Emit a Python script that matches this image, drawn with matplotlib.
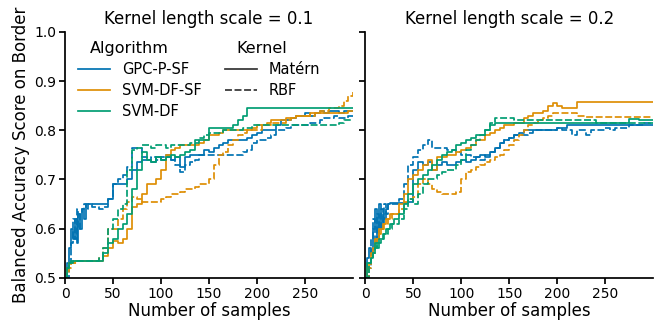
import numpy as np
import matplotlib
matplotlib.use('Agg')
import matplotlib.pyplot as plt
from matplotlib.lines import Line2D
from matplotlib.offsetbox import HPacker, DrawingArea

# sample counts (finer at the start)
samples = list(range(0, 30, 2)) + list(range(30, 301, 5))

scales = ['0.1', '0.2']
algorithms = ['GPC-P-SF', 'SVM-DF-SF', 'SVM-DF']
kernels = ['Matérn', 'RBF']
colors = ['#0173B2', '#DE8F05', '#029E73']

# ---- kernel length scale = 0.1 ----
gpc_matern_01 = [0.50, 0.53, 0.56, 0.60, 0.58, 0.62, 0.57, 0.63, 0.60, 0.64, 0.62, 0.65, 0.65, 0.65, 0.65,
                 0.65, 0.65, 0.65, 0.66, 0.69, 0.69, 0.69, 0.70, 0.72, 0.735,
                 0.74, 0.74, 0.735, 0.745, 0.74, 0.745, 0.74, 0.745, 0.725, 0.745,
                 0.75, 0.75, 0.75, 0.76, 0.755, 0.765, 0.77, 0.775, 0.78, 0.78,
                 0.78, 0.78, 0.785, 0.79, 0.795, 0.80, 0.80, 0.80, 0.81, 0.82,
                 0.82, 0.825, 0.83, 0.83, 0.835, 0.83, 0.835, 0.84, 0.835, 0.84,
                 0.84, 0.835, 0.84, 0.84, 0.84]
gpc_rbf_01 = [0.50, 0.50, 0.53, 0.57, 0.62, 0.58, 0.64, 0.60, 0.63, 0.64, 0.65, 0.64, 0.65, 0.65, 0.645,
              0.645, 0.64, 0.645, 0.66, 0.69, 0.70, 0.71, 0.725, 0.765, 0.765,
              0.745, 0.74, 0.745, 0.74, 0.745, 0.75, 0.74, 0.73, 0.715, 0.73,
              0.735, 0.74, 0.75, 0.75, 0.75, 0.75, 0.75, 0.75, 0.75, 0.75,
              0.75, 0.755, 0.76, 0.775, 0.78, 0.78, 0.785, 0.79, 0.80, 0.80,
              0.805, 0.81, 0.81, 0.81, 0.81, 0.815, 0.815, 0.82, 0.825, 0.825,
              0.83, 0.825, 0.825, 0.83, 0.83]
svmsf_matern_01 = [0.50, 0.52, 0.53, 0.53, 0.53, 0.535, 0.535, 0.535, 0.535, 0.535, 0.535, 0.535, 0.535, 0.535, 0.535,
                   0.535, 0.535, 0.545, 0.56, 0.575, 0.57, 0.58, 0.60, 0.645, 0.65,
                   0.67, 0.69, 0.69, 0.70, 0.72, 0.75, 0.76, 0.765, 0.77, 0.77,
                   0.77, 0.77, 0.775, 0.78, 0.79, 0.79, 0.795, 0.80, 0.80, 0.80,
                   0.80, 0.80, 0.80, 0.805, 0.81, 0.81, 0.815, 0.82, 0.82, 0.82,
                   0.825, 0.825, 0.83, 0.83, 0.83, 0.835, 0.835, 0.835, 0.835, 0.835,
                   0.835, 0.835, 0.835, 0.84, 0.84]
svmsf_rbf_01 = [0.50, 0.51, 0.52, 0.53, 0.53, 0.53, 0.535, 0.535, 0.535, 0.535, 0.535, 0.535, 0.535, 0.535, 0.535,
                0.535, 0.54, 0.56, 0.60, 0.60, 0.62, 0.64, 0.655, 0.665, 0.66,
                0.655, 0.655, 0.655, 0.655, 0.66, 0.665, 0.67, 0.67, 0.675, 0.68,
                0.68, 0.685, 0.69, 0.69, 0.70, 0.73, 0.75, 0.755, 0.77, 0.78,
                0.79, 0.795, 0.80, 0.80, 0.80, 0.81, 0.81, 0.815, 0.815, 0.815,
                0.82, 0.825, 0.83, 0.83, 0.83, 0.83, 0.835, 0.84, 0.84, 0.845,
                0.845, 0.85, 0.86, 0.87, 0.878]
svm_matern_01 = [0.50, 0.52, 0.53, 0.53, 0.535, 0.535, 0.535, 0.535, 0.535, 0.535, 0.535, 0.535, 0.535, 0.535, 0.535,
                 0.535, 0.535, 0.55, 0.57, 0.58, 0.60, 0.61, 0.63, 0.68, 0.72,
                 0.755, 0.74, 0.735, 0.745, 0.74, 0.745, 0.75, 0.745, 0.75, 0.755,
                 0.76, 0.775, 0.78, 0.78, 0.805, 0.805, 0.805, 0.805, 0.805, 0.81,
                 0.82, 0.83, 0.845, 0.845, 0.845, 0.845, 0.845, 0.845, 0.845, 0.845,
                 0.845, 0.845, 0.845, 0.845, 0.845, 0.845, 0.845, 0.845, 0.845, 0.845,
                 0.845, 0.845, 0.845, 0.845, 0.845]
svm_rbf_01 = [0.50, 0.52, 0.53, 0.535, 0.535, 0.535, 0.535, 0.535, 0.535, 0.535, 0.535, 0.535, 0.535, 0.535, 0.535,
              0.535, 0.54, 0.56, 0.60, 0.62, 0.64, 0.65, 0.72, 0.76, 0.765,
              0.77, 0.77, 0.765, 0.77, 0.77, 0.765, 0.77, 0.77, 0.77, 0.77,
              0.775, 0.78, 0.785, 0.79, 0.795, 0.795, 0.795, 0.80, 0.80, 0.80,
              0.80, 0.805, 0.805, 0.81, 0.81, 0.81, 0.81, 0.81, 0.81, 0.81,
              0.81, 0.81, 0.81, 0.81, 0.81, 0.81, 0.81, 0.81, 0.81, 0.81,
              0.81, 0.815, 0.82, 0.82, 0.82]

# ---- kernel length scale = 0.2 ----
gpc_matern_02 = [0.50, 0.54, 0.56, 0.55, 0.60, 0.64, 0.58, 0.65, 0.60, 0.63, 0.62, 0.64, 0.65, 0.652, 0.652,
                 0.652, 0.652, 0.652, 0.655, 0.72, 0.735, 0.73, 0.735, 0.72, 0.73,
                 0.735, 0.73, 0.73, 0.735, 0.74, 0.735, 0.74, 0.745, 0.75, 0.745,
                 0.755, 0.765, 0.775, 0.78, 0.785, 0.79, 0.795, 0.80, 0.80, 0.80,
                 0.80, 0.80, 0.80, 0.80, 0.805, 0.805, 0.81, 0.81, 0.81, 0.81,
                 0.81, 0.81, 0.81, 0.81, 0.81, 0.81, 0.81, 0.81, 0.81, 0.81,
                 0.81, 0.81, 0.81, 0.81, 0.81]
gpc_rbf_02 = [0.50, 0.49, 0.52, 0.58, 0.62, 0.57, 0.63, 0.60, 0.64, 0.61, 0.65, 0.63, 0.65, 0.65, 0.65,
              0.65, 0.66, 0.69, 0.73, 0.745, 0.76, 0.77, 0.78, 0.765, 0.765,
              0.765, 0.76, 0.76, 0.755, 0.75, 0.75, 0.745, 0.745, 0.74, 0.75,
              0.755, 0.765, 0.775, 0.78, 0.785, 0.79, 0.79, 0.79, 0.795, 0.80,
              0.80, 0.80, 0.80, 0.80, 0.805, 0.80, 0.80, 0.79, 0.80, 0.80,
              0.79, 0.80, 0.80, 0.80, 0.805, 0.80, 0.805, 0.805, 0.805, 0.81,
              0.81, 0.81, 0.815, 0.815, 0.815]
svmsf_matern_02 = [0.50, 0.52, 0.53, 0.55, 0.56, 0.58, 0.58, 0.60, 0.60, 0.61, 0.61, 0.62, 0.62, 0.63, 0.63,
                   0.63, 0.65, 0.67, 0.70, 0.71, 0.72, 0.73, 0.74, 0.72, 0.745,
                   0.745, 0.75, 0.75, 0.755, 0.76, 0.765, 0.77, 0.78, 0.78, 0.79,
                   0.795, 0.80, 0.805, 0.81, 0.81, 0.815, 0.815, 0.825, 0.83, 0.835,
                   0.835, 0.84, 0.85, 0.855, 0.85, 0.845, 0.845, 0.845, 0.858, 0.858,
                   0.858, 0.858, 0.858, 0.858, 0.858, 0.858, 0.858, 0.858, 0.858, 0.858,
                   0.858, 0.858, 0.858, 0.858, 0.858]
svmsf_rbf_02 = [0.50, 0.50, 0.52, 0.54, 0.55, 0.57, 0.58, 0.59, 0.60, 0.60, 0.61, 0.61, 0.62, 0.62, 0.63,
                0.63, 0.64, 0.655, 0.66, 0.665, 0.69, 0.70, 0.69, 0.68, 0.675,
                0.67, 0.67, 0.67, 0.675, 0.70, 0.715, 0.72, 0.725, 0.73, 0.735,
                0.74, 0.745, 0.75, 0.76, 0.77, 0.78, 0.79, 0.80, 0.81, 0.815,
                0.82, 0.825, 0.83, 0.835, 0.835, 0.835, 0.835, 0.835, 0.83, 0.83,
                0.827, 0.827, 0.827, 0.827, 0.827, 0.827, 0.827, 0.827, 0.827, 0.827,
                0.827, 0.827, 0.827, 0.827, 0.827]
svm_matern_02 = [0.50, 0.53, 0.53, 0.54, 0.55, 0.57, 0.56, 0.58, 0.58, 0.59, 0.59, 0.60, 0.60, 0.61, 0.61,
                 0.62, 0.63, 0.65, 0.67, 0.69, 0.70, 0.71, 0.72, 0.73, 0.74,
                 0.75, 0.755, 0.76, 0.77, 0.775, 0.78, 0.785, 0.79, 0.79, 0.80,
                 0.81, 0.815, 0.815, 0.815, 0.815, 0.815, 0.815, 0.815, 0.815, 0.815,
                 0.815, 0.815, 0.815, 0.815, 0.815, 0.815, 0.815, 0.815, 0.815, 0.815,
                 0.815, 0.815, 0.815, 0.815, 0.815, 0.815, 0.815, 0.815, 0.815, 0.822,
                 0.822, 0.82, 0.82, 0.82, 0.82]
svm_rbf_02 = [0.48, 0.50, 0.53, 0.54, 0.55, 0.56, 0.57, 0.57, 0.58, 0.58, 0.59, 0.59, 0.60, 0.60, 0.61,
              0.61, 0.62, 0.64, 0.66, 0.65, 0.67, 0.69, 0.70, 0.70, 0.71,
              0.715, 0.72, 0.72, 0.73, 0.74, 0.76, 0.77, 0.78, 0.79, 0.80,
              0.815, 0.825, 0.825, 0.825, 0.825, 0.82, 0.82, 0.82, 0.82, 0.82,
              0.82, 0.82, 0.82, 0.82, 0.82, 0.82, 0.82, 0.82, 0.82, 0.82,
              0.82, 0.82, 0.815, 0.815, 0.815, 0.815, 0.815, 0.815, 0.815, 0.815,
              0.815, 0.815, 0.815, 0.815, 0.815]

results = {
    '0.1': [[gpc_matern_01, gpc_rbf_01], [svmsf_matern_01, svmsf_rbf_01], [svm_matern_01, svm_rbf_01]],
    '0.2': [[gpc_matern_02, gpc_rbf_02], [svmsf_matern_02, svmsf_rbf_02], [svm_matern_02, svm_rbf_02]],
}
dash_styles = [(None, None), (4, 1.5)]

plt.rcParams['font.family'] = 'DejaVu Sans'
plt.rcParams['axes.linewidth'] = 1.25
plt.rcParams['xtick.major.width'] = 1.25
plt.rcParams['ytick.major.width'] = 1.25
plt.rcParams['xtick.major.size'] = 4.5
plt.rcParams['ytick.major.size'] = 4.5

fig, axes = plt.subplots(1, 2, sharey=True, figsize=(6.54, 3.22), dpi=100)
fig.subplots_adjust(left=0.0994, right=0.999, bottom=0.137, top=0.901, wspace=0.042)

lw = 1.25
for ax, s in zip(axes, scales):
    for i, alg in enumerate(algorithms):
        for j, k in enumerate(kernels):
            line, = ax.plot(samples, results[s][i][j], color=colors[i], lw=lw,
                            drawstyle='steps-post')
            if dash_styles[j][0] is not None:
                line.set_dashes(dash_styles[j])
    ax.set_title('Kernel length scale = ' + s, fontsize=12)
    ax.set_xlim(0, 300)
    ax.set_ylim(0.5, 1.0)
    ax.set_xticks([0, 50, 100, 150, 200, 250])
    ax.set_xlabel('Number of samples', fontsize=12, labelpad=1)
    ax.tick_params(labelsize=10, pad=2)
    ax.spines['top'].set_visible(False)
    ax.spines['right'].set_visible(False)

axes[0].set_ylabel('Balanced Accuracy Score on Border', fontsize=12, labelpad=3)
axes[0].set_yticks([0.5, 0.6, 0.7, 0.8, 0.9, 1.0])

# legend in the seaborn way: subtitles as entries with hidden handles
handles, labels = [], []
handles.append(Line2D([], [], visible=False)); labels.append('Algorithm')
for c, a in zip(colors, algorithms):
    handles.append(Line2D([], [], color=c, lw=lw)); labels.append(a)
handles.append(Line2D([], [], visible=False)); labels.append('Kernel')
for j, k in enumerate(kernels):
    h = Line2D([], [], color='#333333', lw=lw)
    if dash_styles[j][0] is not None:
        h.set_dashes(dash_styles[j])
    handles.append(h); labels.append(k)

leg = axes[0].legend(handles, labels, ncol=2, loc='upper left', frameon=False,
                     bbox_to_anchor=(0.015, 0.997),
                     fontsize=10.5, borderaxespad=0.3, borderpad=0.3, labelspacing=0.4,
                     columnspacing=1.6, handlelength=2.2)
for hp in leg.findobj(HPacker):
    kids = hp.get_children()
    if len(kids) == 2 and isinstance(kids[0], DrawingArea):
        if not all(a.get_visible() for a in kids[0].get_children()):
            kids[0].set_width(0)
            for t in kids[1].get_children():
                t.set_size(11.5)

fig.savefig('out.png', dpi=100)
